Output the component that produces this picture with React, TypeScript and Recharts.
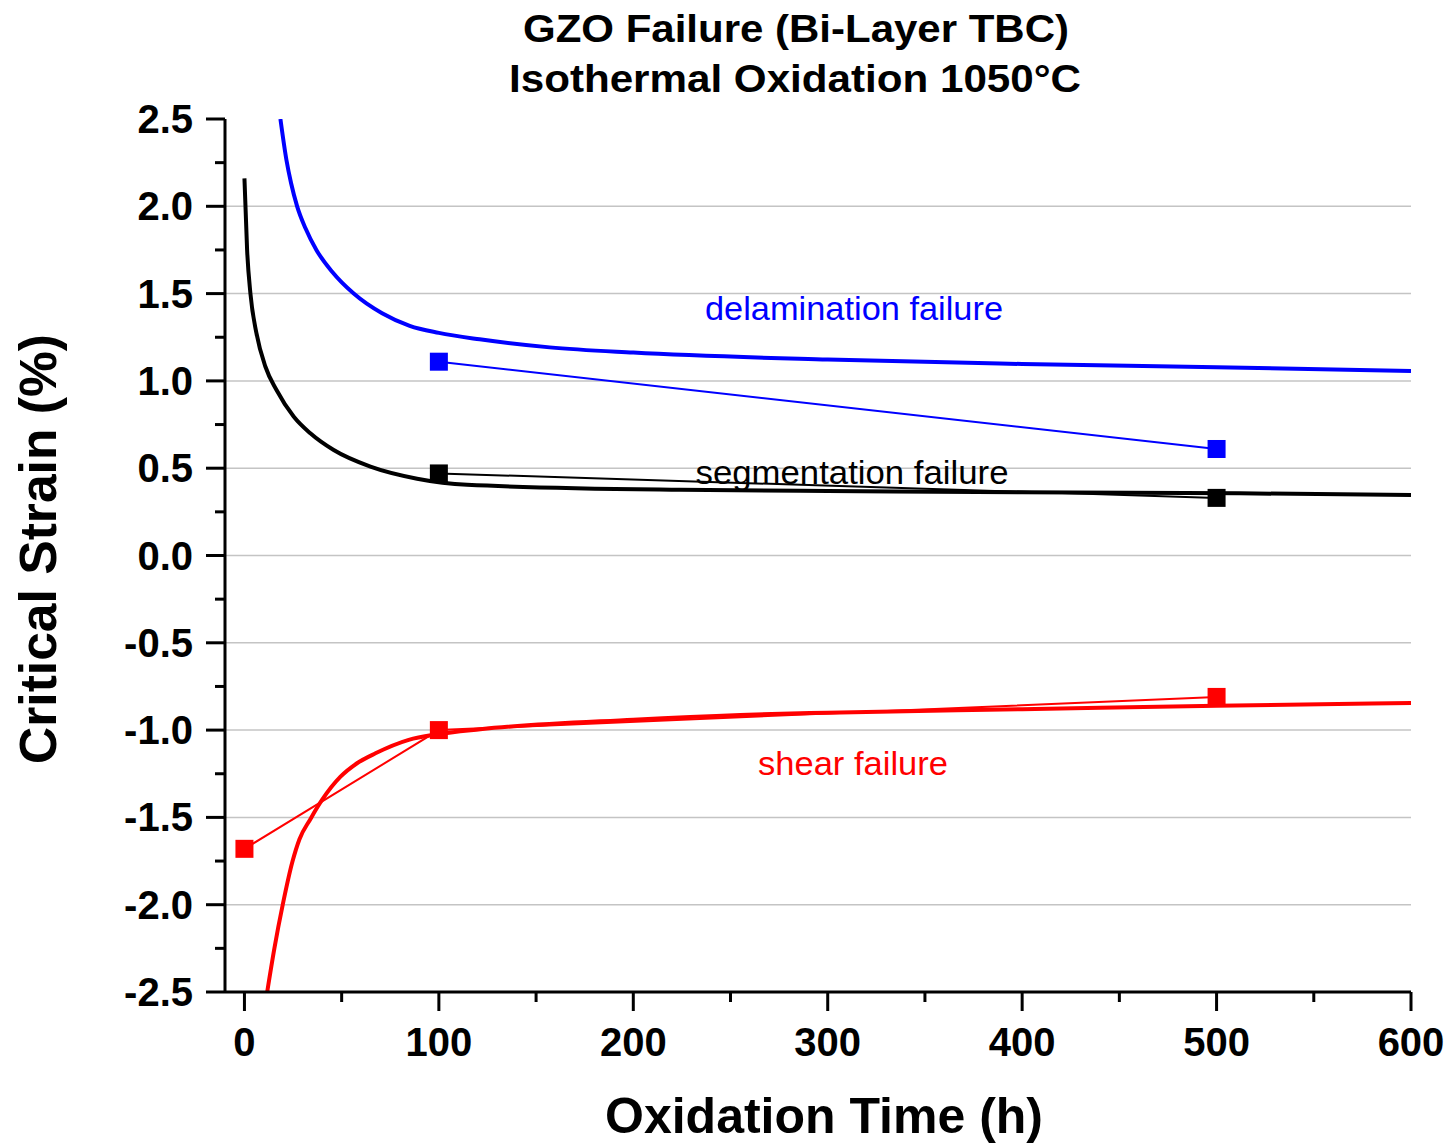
import React from 'react';
import { ComposedChart, Line, XAxis, YAxis, ReferenceLine } from 'recharts';

// ---- data ----
const xTicks = [0, 50, 100, 150, 200, 250, 300, 350, 400, 450, 500, 550, 600];
const xMajorTicks = [0, 100, 200, 300, 400, 500, 600];
const yTicks = [-2.5, -2.25, -2, -1.75, -1.5, -1.25, -1, -0.75, -0.5, -0.25, 0, 0.25, 0.5, 0.75, 1, 1.25, 1.5, 1.75, 2, 2.25, 2.5];
const yMajorTicks = [-2.5, -2, -1.5, -1, -0.5, 0, 0.5, 1, 1.5, 2, 2.5];
const gridValues = [-2, -1.5, -1, -0.5, 0, 0.5, 1, 1.5, 2];

const delaminationCurve = [
  { t: 18.5, v: 2.5 }, { t: 21.6, v: 2.265 }, { t: 24.0, v: 2.132 }, { t: 27.1, v: 2.0 },
  { t: 31.4, v: 1.874 }, { t: 37.0, v: 1.75 }, { t: 45.1, v: 1.625 }, { t: 56.2, v: 1.5 },
  { t: 70.8, v: 1.387 }, { t: 85, v: 1.315 }, { t: 100, v: 1.275 }, { t: 121, v: 1.238 },
  { t: 157, v: 1.192 }, { t: 200, v: 1.162 }, { t: 300, v: 1.122 }, { t: 400, v: 1.097 },
  { t: 500, v: 1.078 }, { t: 600, v: 1.057 },
];
const segmentationCurve = [
  { t: 0, v: 2.16 }, { t: 1.37, v: 1.75 }, { t: 3.08, v: 1.5 }, { t: 6.17, v: 1.273 },
  { t: 10.8, v: 1.081 }, { t: 16.5, v: 0.948 }, { t: 25.4, v: 0.795 }, { t: 33.9, v: 0.7 },
  { t: 45.9, v: 0.604 }, { t: 64.8, v: 0.509 }, { t: 88.8, v: 0.44 }, { t: 114.5, v: 0.405 },
  { t: 224, v: 0.376 }, { t: 300, v: 0.37 }, { t: 400, v: 0.362 }, { t: 512, v: 0.356 },
  { t: 600, v: 0.347 },
];
const shearCurve = [
  { t: 11.7, v: -2.5 }, { t: 15.4, v: -2.25 }, { t: 19.7, v: -2.0 }, { t: 24.7, v: -1.753 },
  { t: 28.3, v: -1.625 }, { t: 33.9, v: -1.51 }, { t: 39.9, v: -1.4 }, { t: 49.4, v: -1.267 },
  { t: 57.9, v: -1.19 }, { t: 67.4, v: -1.133 }, { t: 84.5, v: -1.056 }, { t: 99.1, v: -1.024 },
  { t: 121.3, v: -0.995 }, { t: 200, v: -0.94 }, { t: 255, v: -0.913 }, { t: 300, v: -0.9 },
  { t: 400, v: -0.88 }, { t: 500, v: -0.86 }, { t: 600, v: -0.845 },
];

const delaminationPoints = [{ t: 100, v: 1.11 }, { t: 500, v: 0.61 }];
const segmentationPoints = [{ t: 100, v: 0.47 }, { t: 500, v: 0.33 }];
const shearPoints = [{ t: 0, v: -1.68 }, { t: 100, v: -1.0 }, { t: 500, v: -0.81 }];

const titleLines = ['GZO Failure (Bi-Layer TBC)', 'Isothermal Oxidation 1050°C'];
const xAxisTitle = 'Oxidation Time (h)';
const yAxisTitle = 'Critical Strain (%)';
const annotationTexts = ['delamination failure', 'segmentation failure', 'shear failure'];

// ---- styling ----
const FONT = 'Liberation Sans, Arial, Helvetica, sans-serif';
const BLUE = '#0000ff';
const RED = '#ff0000';
const BLACK = '#000000';

const XTick = (props: any) => {
  const { x, y, payload } = props;
  const major = xMajorTicks.includes(payload.value);
  return (
    <g>
      <line x1={x} x2={x} y1={y} y2={y + (major ? 19 : 10)} stroke="#000" strokeWidth={3} />
      {major && (
        <text x={x} y={y + 64} textAnchor="middle" fontSize={40} fontWeight="bold" fontFamily={FONT} fill="#000">
          {payload.value}
        </text>
      )}
    </g>
  );
};

const YTick = (props: any) => {
  const { x, y, payload } = props;
  const major = yMajorTicks.includes(payload.value);
  return (
    <g>
      <line x1={x - (major ? 19 : 10)} x2={x} y1={y} y2={y} stroke="#000" strokeWidth={3} />
      {major && (
        <text x={x - 32} y={y + 14} textAnchor="end" fontSize={40} fontWeight="bold" fontFamily={FONT} fill="#000">
          {Number(payload.value).toFixed(1)}
        </text>
      )}
    </g>
  );
};

const squareDot = (color: string) => (p: any) => (
  <rect key={`sq-${color}-${p.index}`} x={p.cx - 9} y={p.cy - 9} width={18} height={18} fill={color} />
);

export default function App() {
  return (
    <div style={{ position: 'absolute', left: 0, top: 0, width: 1452, height: 1148, background: '#fff' }}>
      <ComposedChart
        width={1452}
        height={1148}
        margin={{ top: 119, right: 41, bottom: 0, left: 0 }}
      >
        <XAxis
          type="number"
          dataKey="t"
          domain={[-10, 600]}
          ticks={xTicks}
          interval={0}
          allowDataOverflow
          height={156}
          tickSize={0}
          tickMargin={0}
          tickLine={false}
          axisLine={{ stroke: '#000', strokeWidth: 3 }}
          tick={<XTick />}
        />
        <YAxis
          type="number"
          dataKey="v"
          domain={[-2.5, 2.5]}
          ticks={yTicks}
          interval={0}
          allowDataOverflow
          width={225}
          tickSize={0}
          tickMargin={0}
          tickLine={false}
          axisLine={{ stroke: '#000', strokeWidth: 3 }}
          tick={<YTick />}
        />
        {gridValues.map((g) => (
          <ReferenceLine key={g} y={g} stroke="#c4c4c4" strokeWidth={1.5} ifOverflow="hidden" />
        ))}
        <Line data={delaminationCurve} dataKey="v" type="monotone" stroke={BLUE} strokeWidth={4} dot={false} activeDot={false} isAnimationActive={false} />
        <Line data={segmentationCurve} dataKey="v" type="monotone" stroke={BLACK} strokeWidth={4} dot={false} activeDot={false} isAnimationActive={false} />
        <Line data={shearCurve} dataKey="v" type="monotone" stroke={RED} strokeWidth={4} dot={false} activeDot={false} isAnimationActive={false} />
        <Line data={delaminationPoints} dataKey="v" type="linear" stroke={BLUE} strokeWidth={2} dot={squareDot(BLUE)} activeDot={false} isAnimationActive={false} />
        <Line data={segmentationPoints} dataKey="v" type="linear" stroke={BLACK} strokeWidth={2} dot={squareDot(BLACK)} activeDot={false} isAnimationActive={false} />
        <Line data={shearPoints} dataKey="v" type="linear" stroke={RED} strokeWidth={2} dot={squareDot(RED)} activeDot={false} isAnimationActive={false} />
      </ComposedChart>
      <svg width={1452} height={1148} style={{ position: 'absolute', left: 0, top: 0, pointerEvents: 'none' }}>
        <text x={796} y={42} textAnchor="middle" fontSize={39} fontWeight="bold" fontFamily={FONT} textLength={546} lengthAdjust="spacingAndGlyphs">
          {titleLines[0]}
        </text>
        <text x={795} y={92} textAnchor="middle" fontSize={39} fontWeight="bold" fontFamily={FONT} textLength={572} lengthAdjust="spacingAndGlyphs">
          {titleLines[1]}
        </text>
        <text x={824} y={1133} textAnchor="middle" fontSize={50} fontWeight="bold" fontFamily={FONT}>
          {xAxisTitle}
        </text>
        <text x={56} y={549} transform="rotate(-90 56 549)" textAnchor="middle" fontSize={52} fontWeight="bold" fontFamily={FONT} textLength={430} lengthAdjust="spacingAndGlyphs">
          {yAxisTitle}
        </text>
        <text x={854} y={320} textAnchor="middle" fontSize={33} fill={BLUE} fontFamily={FONT} textLength={298} lengthAdjust="spacingAndGlyphs">
          {annotationTexts[0]}
        </text>
        <text x={852} y={484} textAnchor="middle" fontSize={33} fill={BLACK} fontFamily={FONT} textLength={313} lengthAdjust="spacingAndGlyphs">
          {annotationTexts[1]}
        </text>
        <text x={853} y={775} textAnchor="middle" fontSize={33} fill={RED} fontFamily={FONT} textLength={190} lengthAdjust="spacingAndGlyphs">
          {annotationTexts[2]}
        </text>
      </svg>
    </div>
  );
}
